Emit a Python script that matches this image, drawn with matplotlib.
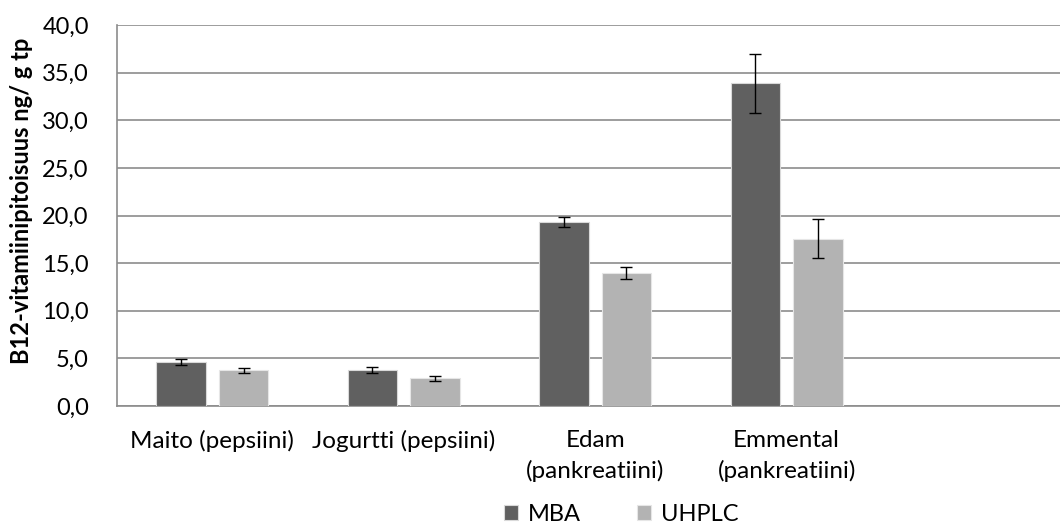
#!/usr/bin/env python3

import numpy as np
import matplotlib.pyplot as plt

#-------------------------------------------------------------------------------

categories = ['Maito (pepsiini)', 'Jogurtti (pepsiini)', 'Edam\n(pankreatiini)',
              'Emmental\n(pankreatiini)', '']
mba = [4.6, 3.75, 19.35, 33.9]
mba_err = [0.3, 0.32, 0.52, 3.1]
uhplc = [3.75, 2.9, 13.95, 17.55]
uhplc_err = [0.28, 0.25, 0.6, 2.05]
yticks = [0, 5, 10, 15, 20, 25, 30, 35, 40]

#-------------------------------------------------------------------------------

plt.rcParams['font.family'] = ['Lato', 'DejaVu Sans']
plt.rcParams['xtick.major.size'] = 0
plt.rcParams['ytick.major.size'] = 0
plt.rcParams['xtick.major.pad'] = 17
plt.rcParams['ytick.major.pad'] = 20

fig = plt.figure(figsize=(10.6, 5.23), dpi=100)
ax = fig.add_axes([0.110, 0.2237, 0.903, 0.7285])

x = np.arange(len(mba))
w = 0.259
off = 0.034 + w / 2

ax.bar(x - off, mba, w, color='#606060', edgecolor='#d9d9d9', linewidth=0.8,
       yerr=mba_err, error_kw=dict(ecolor='black', elinewidth=1, capsize=4, capthick=1),
       label='MBA', zorder=3)
ax.bar(x + off, uhplc, w, color='#b3b3b3', edgecolor='#e6e6e6', linewidth=0.8,
       yerr=uhplc_err, error_kw=dict(ecolor='black', elinewidth=1, capsize=4, capthick=1),
       label='UHPLC', zorder=3)

ax.set_xlim(-0.5, len(categories) - 0.5)
ax.set_ylim(0, 40)
ax.set_yticks(yticks)
ax.set_yticklabels(['{:.1f}'.format(v).replace('.', ',') for v in yticks], fontsize=17)
ax.set_xticks(np.arange(len(categories)))
ax.set_xticklabels(categories, fontsize=17.5, linespacing=1.5)

ax.grid(axis='y', color='#8c8c8c', linewidth=1.2, zorder=0)
ax.set_axisbelow(True)
for side in ['top', 'right']:
    ax.spines[side].set_visible(False)
for side in ['left', 'bottom']:
    ax.spines[side].set_color('#8c8c8c')
    ax.spines[side].set_linewidth(1.2)

ax.set_ylabel('B12-vitamiinipitoisuus ng/ g tp', fontsize=17, fontweight='bold')
ax.yaxis.set_label_coords(-0.087, 0.538)

fig.legend(loc='center', bbox_to_anchor=(0.586, 0.016), ncol=2, frameon=False,
           fontsize=17, handlelength=0.6, handleheight=0.6, handletextpad=0.4,
           columnspacing=2.4)

fig.savefig('out.png', dpi=100)
